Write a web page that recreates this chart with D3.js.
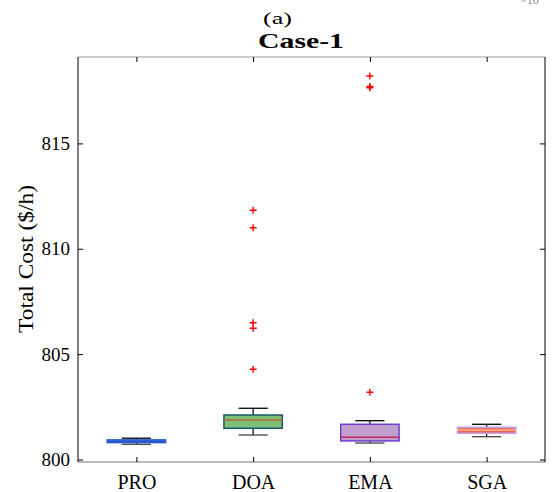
<!DOCTYPE html>
<html><head><meta charset="utf-8">
<script src="https://cdn.jsdelivr.net/npm/d3@7"></script>
<style>body{margin:0;background:#fff}svg{display:block}</style>
</head><body>
<script>
const categories = ["PRO", "DOA", "EMA", "SGA"];
// [lowerWhisker, q1, median, q3, upperWhisker]
const boxStats = [
  [800.72, 800.80, 800.86, 800.93, 801.01],
  [801.16, 801.48, 801.87, 802.11, 802.43],
  [800.78, 800.88, 801.05, 801.67, 801.84],
  [801.08, 801.24, 801.40, 801.53, 801.67]
];
const outliers = [
  [],
  [811.83, 811.00, 806.49, 806.23, 804.28],
  [818.20, 817.70, 817.64, 803.19],
  []
];
const yTicks = [800, 805, 810, 815];
const fills = ["#4a80e4", "#7fbf78", "#c29fcc", "#f0645a"];
const strokes = ["#2a58d0", "#1c5868", "#6a40d0", "#c4a2ee"];
const medians = ["#2a58d0", "#b06a2a", "#c02a5c", "#ffb888"];

const W = 554, H = 492;
const m = {l: 78, r: 9, t: 57, b: 30};
const svg = d3.select("body").append("svg").attr("width", W).attr("height", H);
const x = d3.scaleLinear().domain([0.5, 4.5]).range([m.l, W - m.r]);
const y = d3.scaleLinear().domain([799.88, 819.1]).range([H - m.b, m.t]);
const font = "Liberation Serif, Times New Roman, serif";

// frame
svg.append("line").attr("x1", m.l).attr("x2", W - m.r).attr("y1", m.t).attr("y2", m.t).attr("stroke", "#999");
svg.append("line").attr("x1", m.l).attr("x2", W - m.r).attr("y1", H - m.b).attr("y2", H - m.b).attr("stroke", "#777");
svg.append("line").attr("x1", m.l).attr("x2", m.l).attr("y1", m.t).attr("y2", H - m.b).attr("stroke", "#000");
svg.append("line").attr("x1", W - m.r).attr("x2", W - m.r).attr("y1", m.t).attr("y2", H - m.b).attr("stroke", "#000");

// y axis
const yAx = svg.append("g").attr("transform", `translate(${m.l},0)`)
  .call(d3.axisLeft(y).tickValues(yTicks).tickSize(-5).tickPadding(8).tickFormat(d3.format("d")));
yAx.select(".domain").remove();
yAx.selectAll("line").attr("stroke", "#000");
yAx.selectAll("text").attr("font-family", font).attr("font-size", 19).attr("fill", "#000");
const yAxR = svg.append("g").attr("transform", `translate(${W - m.r},0)`)
  .call(d3.axisRight(y).tickValues(yTicks).tickSize(-5).tickFormat(""));
yAxR.select(".domain").remove();
yAxR.selectAll("line").attr("stroke", "#000");

// x axis
const xAx = svg.append("g").attr("transform", `translate(0,${H - m.b})`)
  .call(d3.axisBottom(x).tickValues([1,2,3,4]).tickSize(-5).tickFormat((d,i) => categories[i]));
xAx.select(".domain").remove();
xAx.selectAll("line").attr("stroke", "#000");
xAx.selectAll("text").attr("font-family", font).attr("font-size", 20).attr("fill", "#000")
  .attr("dy", null).attr("y", 27);
const xAxT = svg.append("g").attr("transform", `translate(0,${m.t})`)
  .call(d3.axisTop(x).tickValues([1,2,3,4]).tickSize(-5).tickFormat(""));
xAxT.select(".domain").remove();
xAxT.selectAll("line").attr("stroke", "#000");

// boxes
const bw = (x(1.25) - x(1));
const cw = bw / 2;
categories.forEach((c, i) => {
  const cx = x(i + 1);
  const s = boxStats[i];
  const g = svg.append("g");
  g.append("line").attr("x1", cx).attr("x2", cx).attr("y1", y(s[3])).attr("y2", y(s[4])).attr("stroke", "#000").attr("stroke-width", 1.2);
  g.append("line").attr("x1", cx).attr("x2", cx).attr("y1", y(s[1])).attr("y2", y(s[0])).attr("stroke", "#000").attr("stroke-width", 1.2);
  g.append("line").attr("x1", cx - cw).attr("x2", cx + cw).attr("y1", y(s[4])).attr("y2", y(s[4])).attr("stroke", "#000").attr("stroke-width", 1.3);
  g.append("line").attr("x1", cx - cw).attr("x2", cx + cw).attr("y1", y(s[0])).attr("y2", y(s[0])).attr("stroke", "#444").attr("stroke-width", 1.3);
  g.append("rect").attr("x", cx - bw).attr("width", 2 * bw)
    .attr("y", y(s[3])).attr("height", Math.max(2, y(s[1]) - y(s[3])))
    .attr("fill", fills[i]).attr("stroke", strokes[i]).attr("stroke-width", 1.5);
  g.append("line").attr("x1", cx - bw).attr("x2", cx + bw).attr("y1", y(s[2])).attr("y2", y(s[2])).attr("stroke", medians[i]).attr("stroke-width", 1.5);
  outliers[i].forEach(v => {
    g.append("path").attr("d", `M${cx - 3.5},${y(v)}h7M${cx},${y(v) - 3.5}v7`)
      .attr("stroke", "#ff0000").attr("stroke-width", 1.4).attr("fill", "none");
  });
});

// texts
svg.append("text").attr("x", 277.5).attr("y", 24).attr("text-anchor", "middle")
  .attr("font-family", font).attr("font-size", 17)
  .attr("textLength", 29).attr("lengthAdjust", "spacingAndGlyphs").text("(a)");
svg.append("text").attr("x", 301).attr("y", 48).attr("text-anchor", "middle")
  .attr("font-family", font).attr("font-size", 21).attr("font-weight", "bold")
  .attr("textLength", 86).attr("lengthAdjust", "spacingAndGlyphs").text("Case-1");
svg.append("text").attr("transform", "translate(33,259) rotate(-90)").attr("text-anchor", "middle")
  .attr("font-family", font).attr("font-size", 21)
  .attr("textLength", 148).attr("lengthAdjust", "spacingAndGlyphs").text("Total Cost ($/h)");
svg.append("text").attr("x", 520).attr("y", 4).attr("font-family", font).attr("font-size", 12).attr("fill", "#888").text("×10");
</script>
</body></html>
